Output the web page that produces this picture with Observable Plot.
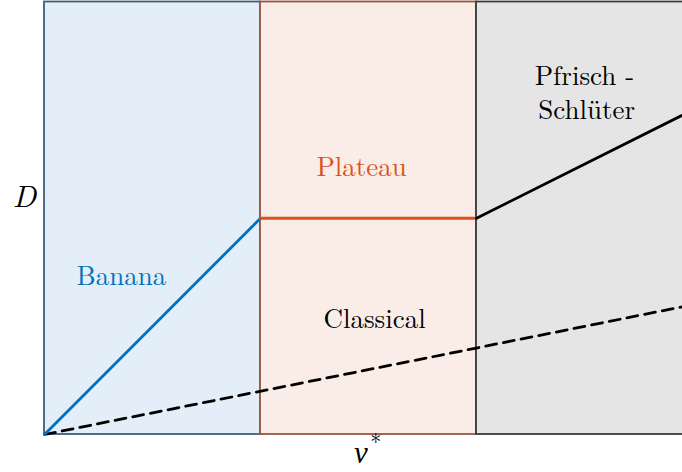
<!DOCTYPE html>
<html>
<head>
<meta charset="utf-8">
<script src="https://cdn.jsdelivr.net/npm/d3@7"></script>
<script src="https://cdn.jsdelivr.net/npm/@observablehq/plot@0.6"></script>
<style>
  html, body { margin: 0; padding: 0; background: #fff; }
  #chart svg { display: block; }
  #chart svg text {
    font-family: "Latin Modern Roman", "CMU Serif", "Liberation Serif", "Tinos", "Times New Roman",
      "DejaVu Serif", "Noto Serif", "FreeSerif", Times, serif !important;
  }
</style>
</head>
<body>
<div id="chart"></div>
<script>
// Collisionality regimes: each region spans one unit of ν*
const regimeNames = ["banana", "plateau", "pfirsch-schlueter"];
const regimeStart = [0, 1, 2];
const regimeEnd = [1, 2, 3];
const regimeFill = ["#e4eef8", "#faece7", "#e5e5e5"];
const regimeStroke = ["#3f5f78", "#9a5442", "#3a3a3a"];

// Diffusion coefficient D against ν* for each regime
const bananaX = [0, 1], bananaY = [0, 1];
const plateauX = [1, 2], plateauY = [1, 1];
const psX = [2, 3], psY = [1, 1.5];
const classicalX = [0, 3], classicalY = [0, 0.6];

// Region labels
const labelText = ["Banana", "Plateau", "Classical", "Pfrisch -", "Schlüter"];
const labelX = [0.356, 1.468, 1.528, 2.5, 2.51];
const labelY = [0.73, 1.236, 0.532, 1.658, 1.5];
const labelColor = ["#0072bd", "#d95319", "#000000", "#000000", "#000000"];

const regimes = regimeNames.map((name, i) => ({
  name, x1: regimeStart[i], x2: regimeEnd[i], fill: regimeFill[i], stroke: regimeStroke[i]
}));
const pts = (xs, ys) => xs.map((x, i) => ({x, y: ys[i]}));
const labels = labelText.map((t, i) => ({t, x: labelX[i], y: labelY[i], c: labelColor[i]}));

// The SVG viewport itself trims the last regime and the Pfirsch-Schlüter line at the right edge
const chart = Plot.plot({
  width: 682,
  height: 472,
  marginLeft: 44,
  marginRight: 0,
  marginTop: 2,
  marginBottom: 38,
  x: {domain: [0, 3], range: [44, 692], axis: null},
  y: {domain: [0, 2], range: [434, 1.5], axis: null},
  style: {background: "#fff"},
  marks: [
    Plot.rect(regimes, {
      x1: "x1", x2: "x2", y1: 0, y2: 2,
      fill: d => d.fill, stroke: d => d.stroke, strokeWidth: 1.8
    }),
    Plot.line(pts(classicalX, classicalY), {
      x: "x", y: "y", stroke: "#000", strokeWidth: 2.8, strokeDasharray: "11,7"
    }),
    Plot.line(pts(bananaX, bananaY), {x: "x", y: "y", stroke: "#0072bd", strokeWidth: 2.8}),
    Plot.line(pts(plateauX, plateauY), {x: "x", y: "y", stroke: "#d95319", strokeWidth: 2.8}),
    Plot.line(pts(psX, psY), {x: "x", y: "y", stroke: "#000", strokeWidth: 2.8}),
    Plot.text(labels, {
      x: "x", y: "y", text: "t", fill: d => d.c,
      fontSize: 27, textAnchor: "middle", lineAnchor: "middle"
    }),
    // Axis titles
    Plot.text(["D"], {
      x: -0.093, y: 1.1, text: d => d, fontSize: 31, fontStyle: "italic",
      textAnchor: "middle", lineAnchor: "middle", fill: "#000"
    }),
    Plot.text(["ν"], {
      x: 1.465, y: -0.085, text: d => d, fontSize: 31, fontStyle: "italic",
      textAnchor: "middle", lineAnchor: "middle", fill: "#000"
    }),
    Plot.text(["*"], {
      x: 1.533, y: -0.04, text: d => d, fontSize: 22,
      textAnchor: "middle", lineAnchor: "middle", fill: "#000"
    })
  ]
});

document.getElementById("chart").appendChild(chart);
</script>
</body>
</html>
